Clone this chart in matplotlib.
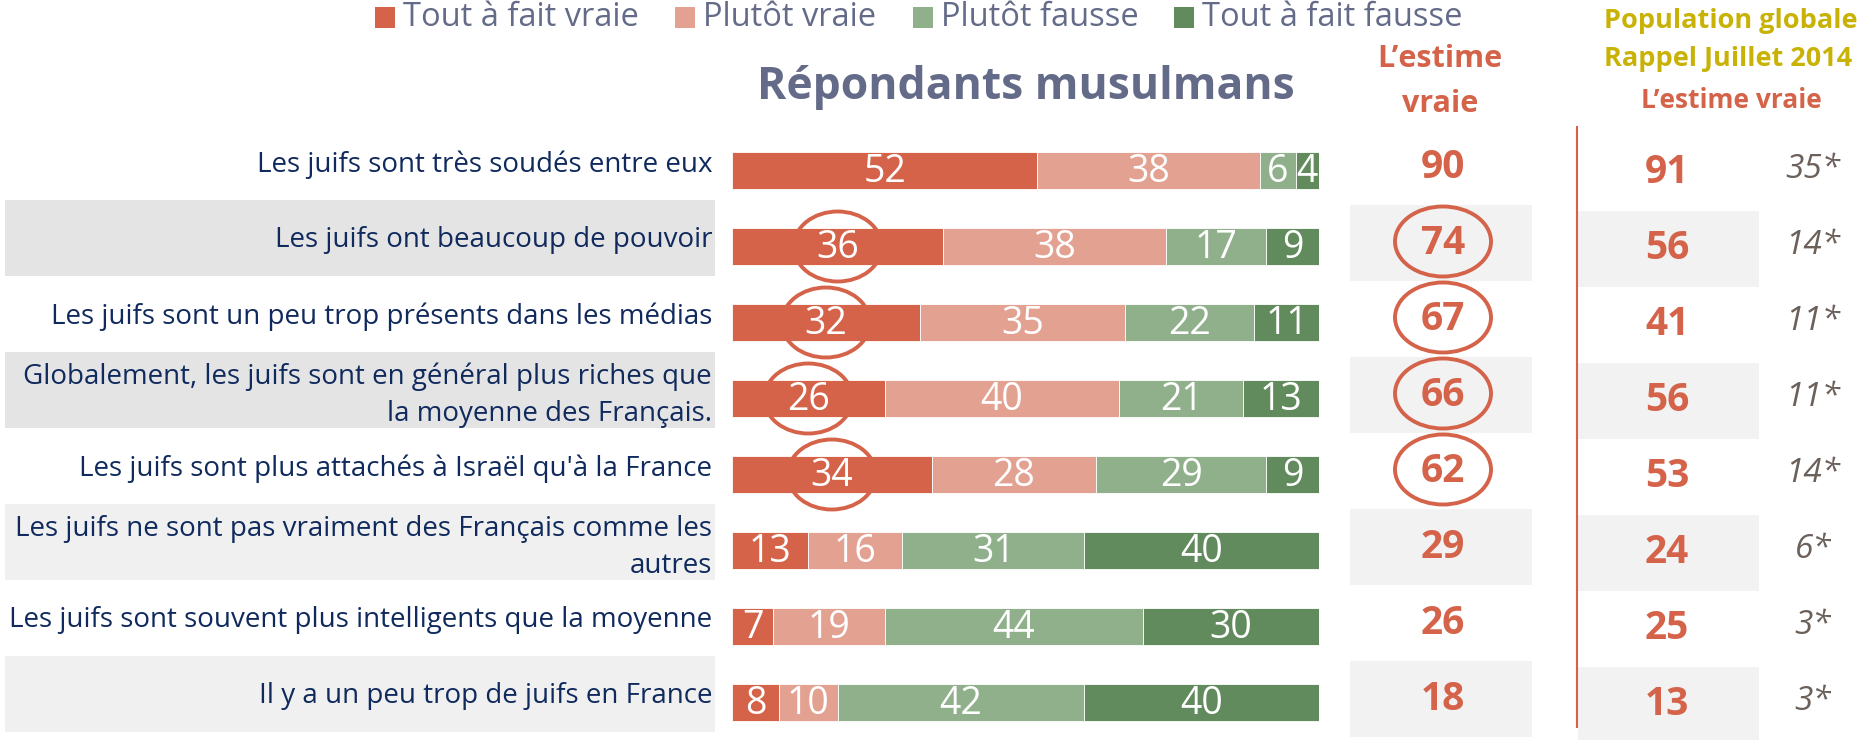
import numpy as np
import matplotlib
matplotlib.use("Agg")
import matplotlib.pyplot as plt
from matplotlib.patches import Ellipse, Rectangle

# ---------------- data ----------------
categories = [
    "Les juifs sont très soudés entre eux",
    "Les juifs ont beaucoup de pouvoir",
    "Les juifs sont un peu trop présents dans les médias",
    "Globalement, les juifs sont en général plus riches que\nla moyenne des Français.",
    "Les juifs sont plus attachés à Israël qu'à la France",
    "Les juifs ne sont pas vraiment des Français comme les\nautres",
    "Les juifs sont souvent plus intelligents que la moyenne",
    "Il y a un peu trop de juifs en France",
]
series_names = ["Tout à fait vraie", "Plutôt vraie", "Plutôt fausse", "Tout à fait fausse"]
tout_vraie = [52, 36, 32, 26, 34, 13, 7, 8]
plutot_vraie = [38, 38, 35, 40, 28, 16, 19, 10]
plutot_fausse = [6, 17, 22, 21, 29, 31, 44, 42]
tout_fausse = [4, 9, 11, 13, 9, 40, 30, 40]
estime_vraie = [90, 74, 67, 66, 62, 29, 26, 18]
pop_globale = [91, 56, 41, 56, 53, 24, 25, 13]
pop_etoile = ["35*", "14*", "11*", "11*", "14*", "6*", "3*", "3*"]
entoure = [False, True, True, True, True, False, False, False]

# ---------------- style ----------------
colors = ["#d4634a", "#e3a191", "#8fb08b", "#618b5d"]
ORANGE = "#d4634a"
NAVY = "#102a5e"
SLATE = "#646b88"
GOLD = "#c9b206"
GREYTXT = "#6b605a"
plt.rcParams["font.family"] = ["Open Sans", "DejaVu Sans"]

W, H = 1860, 740
fig = plt.figure(figsize=(W / 100, H / 100), dpi=100)
ax0 = fig.add_axes([0, 0, 1, 1])
ax0.set_xlim(0, W)
ax0.set_ylim(H, 0)
ax0.axis("off")

bar_x0, bar_w = 732, 587
axb = fig.add_axes([bar_x0 / W, 0, bar_w / W, 1])
axb.set_xlim(0, 100)
axb.set_ylim(H, 0)
axb.axis("off")
axb.patch.set_alpha(0)

n = len(categories)
row_y = 170.5 + 76 * np.arange(n)

# alternating backgrounds
for i in range(n):
    if i % 2 == 1:
        lab_col = "#e4e4e4" if i < 4 else "#f0f0f0"
        ax0.add_patch(Rectangle((5, row_y[i] - 9 - 38), 710, 76, color=lab_col, lw=0, zorder=0))
        ax0.add_patch(Rectangle((1350, row_y[i] - 4 - 38), 182, 76, color="#f2f2f2", lw=0, zorder=0))
        ax0.add_patch(Rectangle((1578, row_y[i] + 2 - 38), 181, 76, color="#f2f2f2", lw=0, zorder=0))

# labels
for i, c in enumerate(categories):
    dy = -6 if "\n" not in c else -3
    ax0.text(712, row_y[i] + dy, c, ha="right", va="center", fontsize=20,
             color=NAVY, linespacing=1.45, zorder=2)

# stacked bars
all_series = [tout_vraie, plutot_vraie, plutot_fausse, tout_fausse]
left = np.zeros(n)
for name, vals, col in zip(series_names, all_series, colors):
    vals = np.array(vals, dtype=float)
    axb.barh(row_y, vals, left=left, height=37, color=col, edgecolor="white",
             linewidth=0.6, label=name, zorder=2)
    for i, v in enumerate(vals):
        axb.text(left[i] + v / 2, row_y[i] + 1, f"{int(v)}", ha="center", va="center",
                 fontsize=27, color="white", zorder=4)
    left += vals

# ellipses on bars
px_per_pct = bar_w / 100
for i in range(n):
    if entoure[i]:
        axb.add_patch(Ellipse((tout_vraie[i] / 2, row_y[i]), 88 / px_per_pct, 70,
                              fill=False, edgecolor=ORANGE, lw=2.8, zorder=3))

# middle column
for i in range(n):
    ax0.text(1443, row_y[i] - 3, f"{estime_vraie[i]}", ha="center", va="center",
             fontsize=28, fontweight="bold", color=ORANGE, zorder=3)
    if entoure[i]:
        ax0.add_patch(Ellipse((1443, row_y[i] - 5), 96, 70, fill=False,
                              edgecolor=ORANGE, lw=2.8, zorder=3))

# right column
ax0.plot([1577, 1577], [127, 727], color=ORANGE, lw=1.5, zorder=3)
for i in range(n):
    ax0.text(1667, row_y[i] + 2, f"{pop_globale[i]}", ha="center", va="center",
             fontsize=28, fontweight="bold", color=ORANGE, zorder=3)
    ax0.text(1813, row_y[i] - 1, pop_etoile[i], ha="center", va="center",
             fontsize=24, fontstyle="italic", color=GREYTXT, zorder=3)

# headers
ax0.text(1026, 87, "Répondants musulmans", ha="center", va="center",
         fontsize=32, fontweight="bold", color=SLATE)
ax0.text(1440, 59, "L’estime", ha="center", va="center", fontsize=22,
         fontweight="bold", color=ORANGE)
ax0.text(1440, 104, "vraie", ha="center", va="center", fontsize=22,
         fontweight="bold", color=ORANGE)
ax0.text(1731, 21, "Population globale", ha="center", va="center", fontsize=19.5,
         fontweight="bold", color=GOLD)
ax0.text(1728, 59, "Rappel Juillet 2014", ha="center", va="center", fontsize=19.5,
         fontweight="bold", color=GOLD)
ax0.text(1731, 101, "L’estime vraie", ha="center", va="center", fontsize=19,
         fontweight="bold", color=ORANGE)

# legend
leg_x = [375, 675, 913, 1174]
for x, name, col in zip(leg_x, series_names, colors):
    ax0.add_patch(Rectangle((x, 7), 20, 21, color=col, lw=0))
    ax0.text(x + 28, 18, name, ha="left", va="center", fontsize=23.5, color=SLATE)

fig.savefig("out.png", dpi=100)
